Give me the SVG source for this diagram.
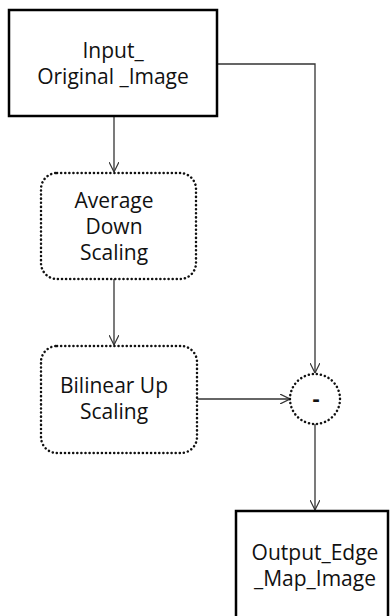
<svg xmlns="http://www.w3.org/2000/svg" width="392" height="616" viewBox="0 0 392 616">
<defs>
<marker id="arr" viewBox="0 0 10 10" refX="10" refY="5" markerWidth="10" markerHeight="10" markerUnits="userSpaceOnUse" orient="auto">
<path d="M0,0 L10,5 L0,10" fill="none" stroke="#333" stroke-width="1.2"/>
</marker>
<style>
.solid{fill:#fff;stroke:#000;stroke-width:2.5}
.dot{fill:#fff;stroke:#111;stroke-width:2.5;stroke-dasharray:0.1 4;stroke-linecap:round}
.lbl{font-family:"Open Sans","Noto Sans",sans-serif;font-size:21px;fill:#111;text-anchor:middle}
.conn{fill:none;stroke:#333;stroke-width:1.3}
</style>
</defs>
<rect width="392" height="616" fill="#fff"/>
<g id="connectors">
<line class="conn" x1="114" y1="116" x2="114" y2="172" marker-end="url(#arr)"/>
<line class="conn" x1="114" y1="279" x2="114" y2="345" marker-end="url(#arr)"/>
<polyline class="conn" points="217,64 315,64 315,373" marker-end="url(#arr)"/>
<line class="conn" x1="197" y1="399" x2="290" y2="399" marker-end="url(#arr)"/>
<line class="conn" x1="315" y1="424" x2="315" y2="510" marker-end="url(#arr)"/>
</g>
<g id="input">
<rect class="solid" x="9" y="10" width="208" height="106"/>
<text class="lbl" x="113" y="58">Input_</text>
<text class="lbl" x="113" y="84">Original _Image</text>
</g>
<g id="average">
<rect class="dot" x="41" y="173" width="155" height="106" rx="16"/>
<text class="lbl" x="114" y="208">Average</text>
<text class="lbl" x="114" y="234">Down</text>
<text class="lbl" x="114" y="260">Scaling</text>
</g>
<g id="bilinear">
<rect class="dot" x="41" y="346" width="156" height="107" rx="16"/>
<text class="lbl" x="114" y="393">Bilinear Up</text>
<text class="lbl" x="114" y="419">Scaling</text>
</g>
<g id="minus">
<circle class="dot" cx="315" cy="399" r="25"/>
<text class="lbl" x="316" y="406" style="font-weight:bold;font-size:22px">-</text>
</g>
<g id="output">
<rect class="solid" x="236" y="511" width="152" height="120"/>
<text class="lbl" x="315" y="560">Output_Edge</text>
<text class="lbl" x="315" y="586">_Map_Image</text>
</g>
</svg>
